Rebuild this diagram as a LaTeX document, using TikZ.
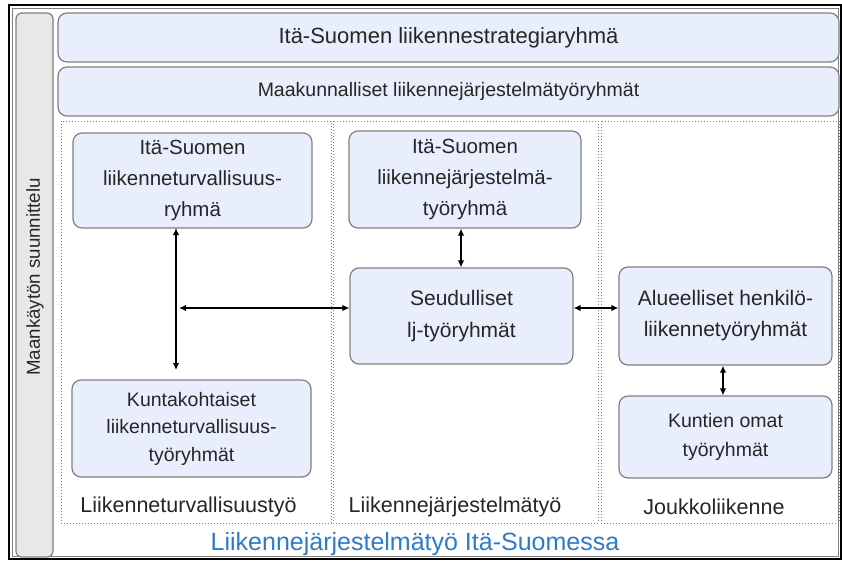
\documentclass[tikz,border=0pt]{standalone}
\usepackage{fontspec}
\setmainfont{Liberation Sans}
\usetikzlibrary{arrows.meta}
\definecolor{boxfill}{HTML}{E8EEFC}
\definecolor{boxline}{HTML}{808080}
\definecolor{barfill}{HTML}{E8E8E8}
\definecolor{titleblue}{HTML}{2E7BC8}
\definecolor{txt}{HTML}{262626}
\begin{document}
\begin{tikzpicture}[x=1pt,y=-1pt,
  box/.style={draw=boxline, line width=1.2pt, fill=boxfill, rounded corners=9pt, align=center, inner sep=2pt, text=txt},
  colbox/.style={draw=gray, dotted, line width=1pt},
  conn/.style={line width=2pt, {Latex[length=7pt,width=6.5pt]}-{Latex[length=7pt,width=6.5pt]}},
  lbl/.style={font=\fontsize{21.5}{24}\selectfont, anchor=center, text=txt}]
\useasboundingbox (0,0) rectangle (842,562);
\fill[white] (0,0) rectangle (842,562);
% outer frame
\draw[line width=1.6pt] (9,5) rectangle (841,559);
\draw[line width=0.5pt, gray] (12,8) rectangle (838,556);
% left bar
\node[draw=boxline, line width=1.2pt, fill=barfill, rounded corners=6pt, minimum width=37pt, minimum height=544pt, inner sep=0pt] (bar) at (34.5,285) {};
\node[rotate=90, font=\fontsize{18.7}{21}\selectfont, text=txt] (bartext) at (35,277) {Maankäytön suunnittelu};
% columns
\draw[colbox] (61,121) rectangle (331,523);
\draw[colbox] (333,121) rectangle (598,523);
\draw[colbox] (601,121) rectangle (839,523);
% top boxes
\node[box, minimum width=781pt, minimum height=49pt, font=\fontsize{22}{25}\selectfont] (top1) at (448.5,37.5) {Itä-Suomen liikennestrategiaryhmä};
\node[box, minimum width=781pt, minimum height=49pt, font=\fontsize{19.5}{22}\selectfont] (top2) at (448.5,91.5) {Maakunnalliset liikennejärjestelmätyöryhmät};
% group boxes
\node[box, minimum width=239pt, minimum height=95pt, font=\fontsize{20.5}{31}\selectfont] (A) at (192.5,180.5) {Itä-Suomen\\liikenneturvallisuus-\\ryhmä};
\node[box, minimum width=232pt, minimum height=97pt, font=\fontsize{20.5}{31}\selectfont] (B) at (465,179.5) {Itä-Suomen\\liikennejärjestelmä-\\työryhmä};
\node[box, minimum width=223pt, minimum height=96pt, font=\fontsize{21}{32}\selectfont] (C) at (461.5,316) {Seudulliset\\lj-työryhmät};
\node[box, minimum width=213pt, minimum height=98pt, font=\fontsize{21}{31}\selectfont] (D) at (725.5,316) {Alueelliset henkilö-\\liikennetyöryhmät};
\node[box, minimum width=239pt, minimum height=97pt, font=\fontsize{19.5}{27.5}\selectfont] (E) at (191.5,428.5) {Kuntakohtaiset\\liikenneturvallisuus-\\työryhmät};
\node[box, minimum width=213pt, minimum height=82pt, font=\fontsize{19.5}{29}\selectfont] (F) at (725.5,437) {Kuntien omat\\työryhmät};
% connectors
\coordinate (vtop) at (176,228);
\coordinate (vbot) at (176,370);
\coordinate (hl) at (179,308);
\draw[conn] (vtop) -- (vbot);
\draw[conn] (hl) -- (hl -| C.west);
\draw[conn] (B.south -| 461,0) -- (C.north -| 461,0);
\draw[conn] (C.east |- 0,308) -- (D.west |- 0,308);
\draw[conn] (D.south -| 723,0) -- (F.north -| 723,0);
% labels
\node[lbl] (l1) at (188.5,507) {Liikenneturvallisuustyö};
\node[lbl] (l2) at (455,507) {Liikennejärjestelmätyö};
\node[lbl] (l3) at (714,507) {Joukkoliikenne};
\node[font=\fontsize{25}{28}\selectfont, text=titleblue] (title) at (415,544) {Liikennejärjestelmätyö Itä-Suomessa};
\end{tikzpicture}
\end{document}
